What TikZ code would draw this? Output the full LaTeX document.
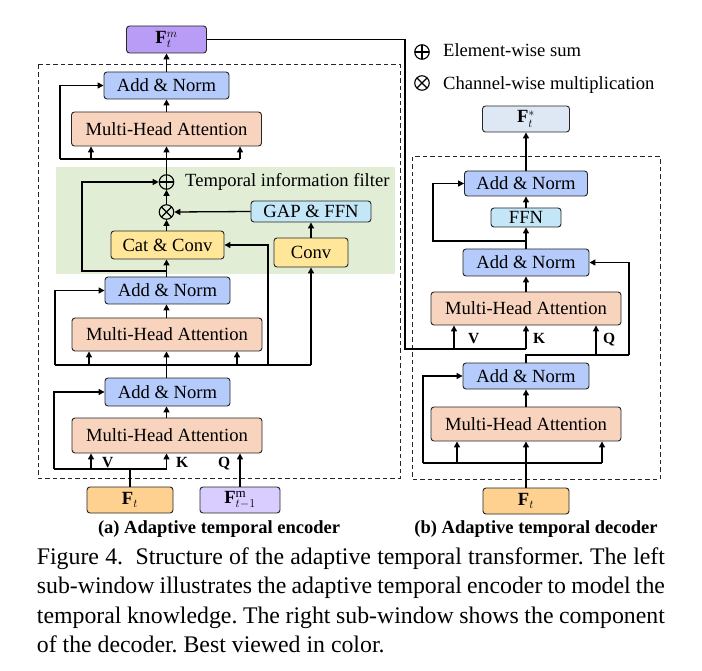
\documentclass[tikz,border=0pt]{standalone}
\usepackage{fontspec}
\setmainfont{Liberation Serif}
\usetikzlibrary{arrows.meta,calc}
\definecolor{cAN}{HTML}{B4CBFB}
\definecolor{cMHA}{HTML}{F8D3BD}
\definecolor{cGAP}{HTML}{C3E7F6}
\definecolor{cYel}{HTML}{FFE699}
\definecolor{cFt}{HTML}{FFD191}
\definecolor{cFtm}{HTML}{B99CF5}
\definecolor{cFtmo}{HTML}{D9CCFF}
\definecolor{cFts}{HTML}{DEE8F5}
\definecolor{cGreen}{HTML}{E2EDD6}
\tikzset{
  box/.style={draw=black!85, line width=0.9pt, rounded corners=3pt, inner sep=0pt,
    font=\fontsize{18.6}{21}\selectfont},
  ln/.style={line width=1.3pt},
  arr/.style={line width=1.3pt, -{Triangle[length=6pt,width=6pt]}},
  circ/.style={circle, draw, line width=1.1pt, minimum size=14.5pt, inner sep=0pt},
  oplusn/.style={circ, path picture={\draw[line width=1.1pt]
     (path picture bounding box.north) -- (path picture bounding box.south)
     (path picture bounding box.west) -- (path picture bounding box.east);}},
  otimesn/.style={circ, path picture={\draw[line width=1.1pt]
     ($(path picture bounding box.center)+(-5.2pt,-5.2pt)$) -- ($(path picture bounding box.center)+(5.2pt,5.2pt)$)
     ($(path picture bounding box.center)+(-5.2pt,5.2pt)$) -- ($(path picture bounding box.center)+(5.2pt,-5.2pt)$);}},
  lbl/.style={font=\bfseries\fontsize{15.5}{17}\selectfont, inner sep=0pt, anchor=base west},
  txt/.style={font=\fontsize{18.6}{21}\selectfont, inner sep=0pt, anchor=base west},
  captext/.style={font=\fontsize{23.8}{29}\selectfont\frenchspacing, inner sep=0pt, anchor=base west},
  subcap/.style={font=\bfseries\fontsize{18.5}{20}\selectfont, inner sep=0pt, anchor=base},
  dbox/.style={draw=black!85, line width=1pt, dash pattern=on 4.5pt off 3pt}
}
\begin{document}
\begin{tikzpicture}[x=1pt,y=-1pt]
\useasboundingbox (0,0) rectangle (702,671);
% green region
\fill[cGreen] (56,167) rectangle (395,274);
% dashed frames
\draw[dbox] (38,65) rectangle (400,478);
\draw[dbox] (412,157) rectangle (660,479);

% ===== Encoder =====
\node[box, fill=cFtm, minimum width=80pt, minimum height=27pt] (Ftm) at (166.5,39.5) {$\mathbf{F}_t^m$};
\node[box, fill=cAN, minimum width=125pt, minimum height=27pt] (an1) at (166.5,85.5) {Add \& Norm};
\node[box, fill=cMHA, minimum width=190pt, minimum height=34pt] (mha1) at (166.5,129) {Multi-Head Attention};
\node[oplusn] (oplus) at (166.5,182) {};
\node[otimesn] (otimes) at (166.5,212) {};
\node[txt] (tif) at (185,187) {Temporal information filter};
\node[box, fill=cGAP, minimum width=120pt, minimum height=21pt] (gap) at (311,211.5) {GAP \& FFN};
\node[box, fill=cYel, minimum width=113pt, minimum height=28pt] (cat) at (167.5,245) {Cat \& Conv};
\node[box, fill=cYel, minimum width=74pt, minimum height=29pt] (conv) at (311,252.5) {Conv};
\node[box, fill=cAN, minimum width=125pt, minimum height=27pt] (an2) at (167.5,290.5) {Add \& Norm};
\node[box, fill=cMHA, minimum width=190pt, minimum height=33pt] (mha2) at (167,334.5) {Multi-Head Attention};
\node[box, fill=cAN, minimum width=125pt, minimum height=28pt] (an3) at (167.5,392) {Add \& Norm};
\node[box, fill=cMHA, minimum width=190pt, minimum height=35pt] (mha3) at (167,435.5) {Multi-Head Attention};
\node[box, fill=cFt, minimum width=86pt, minimum height=26pt] (Ft) at (130,500) {$\mathbf{F}_t$};
\node[box, fill=cFtmo, minimum width=80pt, minimum height=26pt] (Ftm1) at (240,500) {$\mathbf{F}_{t-1}^{\mathrm{m}}$};

\node[lbl] (lV) at (102,467.5) {V};
\node[lbl] (lK) at (176,467.5) {K};
\node[lbl] (lQ) at (218,467.5) {Q};

% encoder connectors
\draw[arr] (an1.north) -- (Ftm.south);
\draw[arr] (mha1.north) -- (an1.south);
\coordinate (j1) at (166.5,159);
\coordinate (j1l) at (60,159);
\coordinate (j1a) at (91,159);
\coordinate (j1c) at (240,159);
\draw[ln] (oplus.north) -- (j1);
\draw[ln] (j1l) -- (j1c);
\draw[arr] (j1a) -- (j1a |- mha1.south);
\draw[arr] (j1) -- (mha1.south);
\draw[arr] (j1c) -- (j1c |- mha1.south);
\draw[arr] (j1l) |- (an1.west);
\draw[arr] (otimes.north) -- (oplus.south);
\draw[arr] (gap.west) -- (otimes.east);
\draw[arr] (cat.north -| otimes) -- (otimes.south);
\draw[arr] (conv.north) -- (gap.south);
\coordinate (j2) at (166.5,271);
\coordinate (j2l) at (82,271);
\draw[arr] (an2.north -| j2) -- (cat.south -| j2);
\draw[arr] (j2) -- (j2l) |- (oplus.west);
\draw[arr] (mha2.north -| j2) -- (an2.south -| j2);
\coordinate (j3) at (166.5,365);
\coordinate (j3l) at (55,365);
\coordinate (j3a) at (89,365);
\coordinate (j3c) at (237,365);
\coordinate (j3m) at (268,365);
\coordinate (j3r) at (311,365);
\draw[ln] (an3.north -| j3) -- (j3);
\draw[ln] (j3l) -- (j3r);
\draw[arr] (j3a) -- (j3a |- mha2.south);
\draw[arr] (j3) -- (j3 |- mha2.south);
\draw[arr] (j3c) -- (j3c |- mha2.south);
\draw[arr] (j3l) |- (an2.west);
\draw[arr] (j3m) |- (cat.east);
\draw[arr] (j3r) -- (conv.south);
\draw[arr] (mha3.north -| j3) -- (an3.south -| j3);
\coordinate (j4) at (166.5,469);
\coordinate (j4l) at (54,469);
\coordinate (j4a) at (91,469);
\draw[ln] (Ft.north) -- (Ft.north |- j4);
\draw[ln] (j4l) -- (j4);
\draw[arr] (j4a) -- (j4a |- mha3.south);
\draw[arr] (j4) -- (j4 |- mha3.south);
\draw[arr] (j4l) |- (an3.west);
\draw[arr] (Ftm1.north) -- (Ftm1.north |- mha3.south);

% ===== Legend =====
\node[oplusn] (lg1) at (422,52) {};
\node[txt] (lg1t) at (443,57) {Element-wise sum};
\node[otimesn] (lg2) at (422,83) {};
\node[txt] (lg2t) at (443,90) {Channel-wise multiplication};

% ===== Decoder =====
\node[box, fill=cFts, minimum width=87pt, minimum height=26pt] (Fts) at (526,119) {$\mathbf{F}_t^{*}$};
\node[box, fill=cAN, minimum width=123pt, minimum height=25pt] (dan1) at (526,183.5) {Add \& Norm};
\node[box, fill=cGAP, minimum width=70pt, minimum height=19pt] (ffn) at (526,217.5) {FFN};
\node[box, fill=cAN, minimum width=126pt, minimum height=27pt] (dan2) at (526,262.5) {Add \& Norm};
\node[box, fill=cMHA, minimum width=190pt, minimum height=33pt] (dmha1) at (526,308.5) {Multi-Head Attention};
\node[box, fill=cAN, minimum width=126pt, minimum height=26pt] (dan3) at (526,376) {Add \& Norm};
\node[box, fill=cMHA, minimum width=190pt, minimum height=34pt] (dmha2) at (526,424) {Multi-Head Attention};
\node[box, fill=cFt, minimum width=86pt, minimum height=26pt] (dFt) at (526,501) {$\mathbf{F}_t$};

\node[lbl] (dV) at (468,343) {V};
\node[lbl] (dK) at (533,343) {K};
\node[lbl] (dQ) at (603,343) {Q};

% cross connection from encoder output
\coordinate (d1) at (405,349);
\coordinate (d1v) at (454,349);
\coordinate (d1k) at (526,349);
\draw[ln] (Ftm.east) -| (d1) -- (d1k);
\draw[arr] (d1v) -- (d1v |- dmha1.south);
\draw[arr] (d1k) -- (dmha1.south);

% decoder connectors
\draw[arr] (dan1.north) -- (Fts.south);
\draw[arr] (ffn.north) -- (dan1.south);
\draw[arr] (dan2.north) -- (ffn.south);
\coordinate (e1) at (526,241);
\coordinate (e1l) at (433,241);
\draw[arr] (e1) -- (e1l) |- (dan1.west);
\draw[arr] (dmha1.north) -- (dan2.south);
\coordinate (e2) at (526,355);
\coordinate (e2q) at (596,355);
\coordinate (e2r) at (629,355);
\draw[ln] (dan3.north) -- (e2) -- (e2r);
\draw[arr] (e2r) |- (dan2.east);
\draw[arr] (e2q) -- (e2q |- dmha1.south);
\draw[arr] (dmha2.north) -- (dan3.south);
\coordinate (e3) at (526,463);
\coordinate (e3l) at (423,463);
\coordinate (e3a) at (457,463);
\coordinate (e3c) at (602,463);
\draw[ln] (dFt.north) -- (e3);
\draw[ln] (e3l) -- (e3c);
\draw[arr] (e3a) -- (e3a |- dmha2.south);
\draw[arr] (e3) -- (dmha2.south);
\draw[arr] (e3c) -- (e3c |- dmha2.south);
\draw[arr] (e3l) |- (dan3.west);

% ===== Captions =====
\node[subcap] (sa) at (219,533) {(a) Adaptive temporal encoder};
\node[subcap] (sb) at (536,533) {(b) Adaptive temporal decoder};
\node[captext] (c1) at (36.7,564) {\makebox[628pt][s]{Figure 4.\ \ Structure of the adaptive temporal transformer. The left}};
\node[captext] (c2) at (36.7,593) {\makebox[628pt][s]{sub-window illustrates the adaptive temporal encoder to model the}};
\node[captext] (c3) at (36.7,623) {\makebox[628pt][s]{temporal knowledge. The right sub-window shows the component}};
\node[captext] (c4) at (36.7,652) {of the decoder. Best viewed in color.};
\end{tikzpicture}
\end{document}
